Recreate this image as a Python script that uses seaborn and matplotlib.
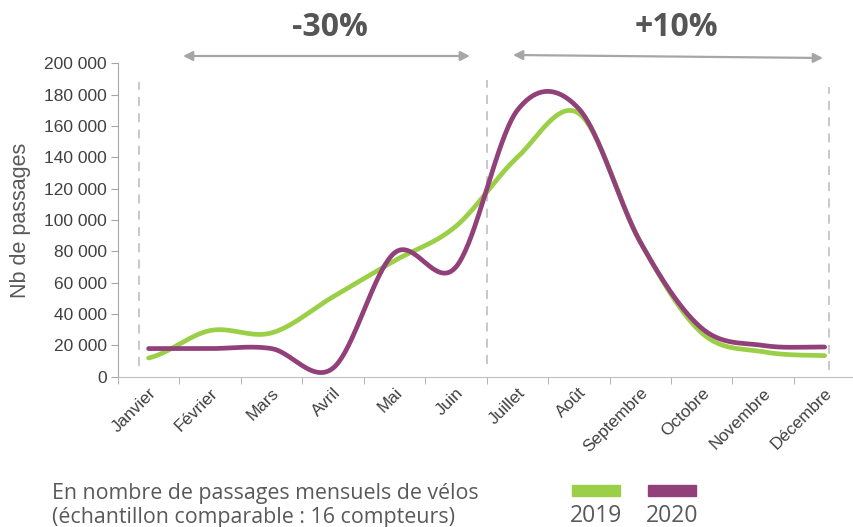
import numpy as np
import pandas as pd
import seaborn as sns
import matplotlib.pyplot as plt
from matplotlib.patches import Rectangle
from matplotlib.ticker import FuncFormatter, FixedLocator

mois = ["Janvier", "Février", "Mars", "Avril", "Mai", "Juin", "Juillet",
        "Août", "Septembre", "Octobre", "Novembre", "Décembre"]
passages_2019 = [12000, 29500, 28000, 51000, 74000, 96000, 140000,
                 168000, 86000, 28000, 16000, 13500]
passages_2020 = [18000, 18000, 18000, 5500, 79000, 70000, 170000,
                 171000, 86000, 31000, 20000, 19000]
annees = ["2019", "2020"]
couleurs = ["#9ccf48", "#91407a"]
evolutions = ["-30%", "+10%"]


def lisse(y, n=40):
    # courbe lissée type Excel (Catmull-Rom) passant par les points
    p = np.concatenate([[y[0]], y, [y[-1]]]).astype(float)
    xs, ys = [], []
    for i in range(len(y) - 1):
        p0, p1, p2, p3 = p[i], p[i + 1], p[i + 2], p[i + 3]
        t = np.linspace(0, 1, n, endpoint=(i == len(y) - 2))
        v = 0.5 * (2 * p1 + (-p0 + p2) * t + (2 * p0 - 5 * p1 + 4 * p2 - p3) * t ** 2
                   + (-p0 + 3 * p1 - 3 * p2 + p3) * t ** 3)
        xs.extend(i + t)
        ys.extend(v)
    return xs, ys


rows = []
for an, vals in zip(annees, [passages_2019, passages_2020]):
    xs, ys = lisse(vals)
    for x, v in zip(xs, ys):
        rows.append([an, x, v])
df = pd.DataFrame(rows, columns=["annee", "mois", "passages"])

sns.set_style("white")
plt.rcParams["font.family"] = ["Liberation Sans", "DejaVu Sans"]

fig = plt.figure(figsize=(8.54, 5.27), dpi=100)
ax = fig.add_axes([0.138, 0.285, 0.86, 0.595])

sns.lineplot(data=df, x="mois", y="passages", hue="annee", palette=couleurs,
             linewidth=3.4, legend=False, ax=ax, sort=False, estimator=None)

# lignes pointillées de séparation
gris = "#c4c4c4"
for x, y0, y1 in [(-0.15, 7000, 188000), (5.5, 8000, 189000), (11.07, 4500, 185000)]:
    ax.plot([x, x], [y0, y1], color=gris, linestyle=(0, (5, 4)), linewidth=1.3, zorder=0)

ax.set_xlim(-0.5, 11.45)
ax.set_ylim(0, 200000)
ax.set_xticks(range(len(mois)))
ax.set_xticklabels(mois, rotation=45, ha="right", rotation_mode="anchor",
                   fontsize=12.3, color="#404040")
ax.xaxis.set_minor_locator(FixedLocator(np.arange(-0.5, 11.5, 1)))
ax.tick_params(axis="x", which="major", length=0, pad=6)
ax.tick_params(axis="x", which="minor", length=5, color="#a6a6a6", direction="out", bottom=True)
ax.set_yticks(range(0, 200001, 20000))
ax.yaxis.set_major_formatter(FuncFormatter(lambda v, p: f"{int(v):,}".replace(",", " ")))
ax.tick_params(axis="y", length=5, color="#a6a6a6", direction="out", left=True,
               labelsize=12.5, labelcolor="#404040", pad=3)
ax.set_xlabel("")
ax.set_ylabel("Nb de passages", fontsize=15.5, color="#595959", labelpad=9)
for s in ["top", "right"]:
    ax.spines[s].set_visible(False)
ax.spines["left"].set_color("#a6a6a6")
ax.spines["bottom"].set_color("#bfbfbf")

# flèches et évolutions
fl = dict(arrowstyle="<|-|>", color="#a6a6a6", lw=1.6, mutation_scale=14, shrinkA=0, shrinkB=0)
ax.annotate("", xy=(183 / 854, 1 - 56 / 527), xytext=(470 / 854, 1 - 56 / 527),
            xycoords="figure fraction", arrowprops=fl)
ax.annotate("", xy=(513 / 854, 1 - 55 / 527), xytext=(823 / 854, 1 - 58 / 527),
            xycoords="figure fraction", arrowprops=fl)
fig.text(330 / 854, 1 - 28 / 527, evolutions[0], ha="center", va="center", fontsize=23,
         fontweight="bold", color="#555555", family="Open Sans")
fig.text(676 / 854, 1 - 28 / 527, evolutions[1], ha="center", va="center", fontsize=23,
         fontweight="bold", color="#555555", family="Open Sans")

# texte et légende en bas
fig.text(52 / 854, 1 - 494 / 527, "En nombre de passages mensuels de vélos", ha="left",
         va="center", fontsize=15.4, color="#595959", family="Open Sans")
fig.text(52 / 854, 1 - 517 / 527, "(échantillon comparable : 16 compteurs)", ha="left",
         va="center", fontsize=15.4, color="#595959", family="Open Sans")
for x0, an, c in zip([572, 648], annees, couleurs):
    fig.patches.append(Rectangle((x0 / 854, 1 - 496 / 527), 48 / 854, 11 / 527,
                                 transform=fig.transFigure, color=c))
    fig.text((x0 + 24) / 854, 1 - 516 / 527, an, ha="center", va="center", fontsize=16.5,
             color="#595959", family="Open Sans")

fig.savefig("out.png", dpi=100)
